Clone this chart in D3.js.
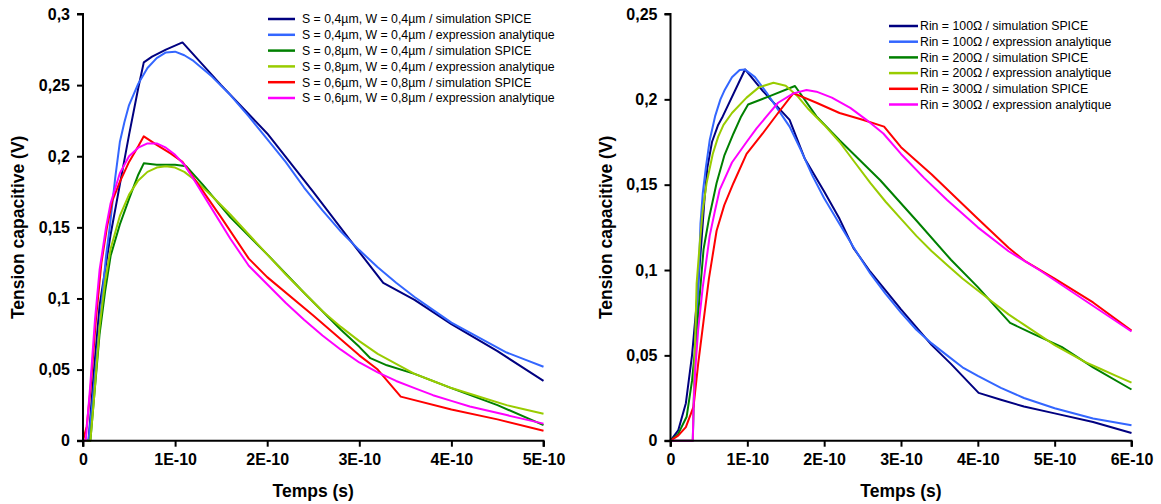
<!DOCTYPE html>
<html>
<head>
<meta charset="utf-8">
<script src="https://cdn.jsdelivr.net/npm/d3@7"></script>
<style>
  html, body { margin: 0; padding: 0; background: #fff; }
  svg { display: block; }
  .tick text { font-family: "Liberation Sans", Arial, sans-serif; font-weight: bold; font-size: 16px; fill: #000; }
  .axis-title { font-family: "Liberation Sans", Arial, sans-serif; font-weight: bold; font-size: 17.5px; fill: #000; }
  .legend text { font-family: "Liberation Sans", Arial, sans-serif; font-size: 12.3px; fill: #000; }
</style>
</head>
<body>
<svg id="chart" width="1161" height="504"></svg>
<script>
// ---------- DATA (time in ps, i.e. 1E-12 s ; voltage in V) ----------
// Left chart: geometry S / W
const leftLabels = [
  "S = 0,4µm, W = 0,4µm / simulation SPICE",
  "S = 0,4µm, W = 0,4µm / expression analytique",
  "S = 0,8µm, W = 0,4µm / simulation SPICE",
  "S = 0,8µm, W = 0,4µm / expression analytique",
  "S = 0,6µm, W = 0,8µm / simulation SPICE",
  "S = 0,6µm, W = 0,8µm / expression analytique"
];
const leftS04W04Spice = [[0,0],[6,0],[12,0.05],[18,0.095],[24,0.12],[30,0.145],[40,0.18],[50,0.215],[60,0.248],[66,0.266],[75,0.27],[90,0.275],[108,0.28],[150,0.25],[200,0.216],[250,0.175],[290,0.141],[326,0.111],[360,0.099],[400,0.082],[450,0.063],[500,0.042]];
const leftS04W04Anal = [[0,0],[6,0],[10,0.025],[15,0.06],[20,0.095],[25,0.13],[29,0.15],[35,0.185],[40,0.21],[45,0.224],[50,0.236],[60,0.251],[70,0.262],[80,0.269],[90,0.273],[100,0.2735],[110,0.271],[120,0.267],[140,0.256],[160,0.243],[180,0.228],[200,0.212],[220,0.196],[240,0.178],[260,0.162],[280,0.147],[300,0.134],[320,0.122],[340,0.111],[360,0.101],[380,0.092],[400,0.083],[420,0.076],[440,0.069],[460,0.062],[480,0.057],[500,0.052]];
const leftS08W04Spice = [[0,0],[8,0],[12,0.03],[18,0.075],[24,0.105],[30,0.13],[40,0.152],[50,0.17],[60,0.187],[66,0.195],[80,0.194],[100,0.194],[112,0.193],[130,0.18],[160,0.157],[200,0.131],[240,0.104],[280,0.078],[300,0.066],[312,0.058],[330,0.053],[360,0.047],[400,0.037],[450,0.025],[500,0.011]];
const leftS08W04Anal = [[0,0],[8,0],[12,0.03],[18,0.08],[24,0.112],[30,0.135],[40,0.158],[50,0.173],[60,0.183],[70,0.189],[80,0.192],[90,0.193],[100,0.192],[110,0.189],[120,0.184],[140,0.172],[160,0.159],[180,0.145],[200,0.131],[220,0.117],[240,0.104],[260,0.091],[280,0.08],[300,0.07],[320,0.061],[340,0.054],[360,0.047],[380,0.042],[400,0.037],[420,0.033],[440,0.029],[460,0.025],[480,0.022],[500,0.019]];
const leftS06W08Spice = [[0,0],[4,0.01],[8,0.035],[14,0.085],[20,0.125],[26,0.15],[32,0.169],[40,0.182],[50,0.196],[60,0.207],[66,0.214],[80,0.208],[95,0.202],[108,0.196],[120,0.185],[150,0.157],[180,0.128],[200,0.115],[250,0.088],[300,0.06],[320,0.05],[345,0.031],[400,0.022],[450,0.015],[500,0.007]];
const leftS06W08Anal = [[0,0],[3,0],[8,0.04],[13,0.085],[18,0.12],[25,0.15],[30,0.167],[40,0.188],[50,0.2],[60,0.206],[70,0.209],[80,0.209],[90,0.206],[100,0.201],[110,0.194],[120,0.184],[140,0.163],[160,0.142],[180,0.123],[200,0.11],[220,0.097],[240,0.085],[260,0.074],[280,0.064],[300,0.055],[320,0.048],[340,0.042],[360,0.037],[380,0.032],[400,0.028],[420,0.024],[440,0.021],[460,0.018],[480,0.015],[500,0.012]];

// Right chart: input resistance Rin
const rightLabels = [
  "Rin = 100Ω / simulation SPICE",
  "Rin = 100Ω / expression analytique",
  "Rin = 200Ω / simulation SPICE",
  "Rin = 200Ω / expression analytique",
  "Rin = 300Ω / simulation SPICE",
  "Rin = 300Ω / expression analytique"
];
const rightR100Spice = [[0,0],[10,0.006],[20,0.022],[28,0.05],[34,0.08],[40,0.115],[44,0.14],[48,0.16],[54,0.175],[62,0.185],[68,0.19],[97,0.2175],[120,0.205],[155,0.188],[175,0.165],[200,0.146],[220,0.13],[238,0.113],[260,0.099],[300,0.077],[340,0.056],[365,0.045],[401,0.028],[430,0.024],[460,0.02],[500,0.016],[550,0.011],[600,0.0045]];
const rightR100Anal = [[0,0],[29,0],[32,0.05],[37,0.1],[39,0.127],[42,0.145],[46,0.16],[51,0.176],[58,0.19],[65,0.2],[70,0.205],[80,0.213],[90,0.2172],[97,0.2175],[110,0.213],[125,0.204],[140,0.194],[155,0.184],[170,0.17],[185,0.155],[200,0.142],[220,0.127],[240,0.112],[260,0.098],[280,0.086],[300,0.075],[320,0.065],[340,0.057],[360,0.05],[380,0.043],[400,0.038],[430,0.031],[460,0.025],[500,0.019],[550,0.013],[600,0.009]];
const rightR200Spice = [[0,0],[10,0.004],[21,0.014],[28,0.035],[34,0.063],[38,0.085],[43,0.112],[50,0.13],[60,0.151],[70,0.167],[82,0.18],[92,0.19],[101,0.197],[130,0.202],[162,0.2078],[190,0.19],[220,0.176],[273,0.1526],[320,0.129],[365,0.106],[400,0.09],[442,0.069],[470,0.063],[509,0.055],[550,0.043],[600,0.03]];
const rightR200Anal = [[0,0],[29,0],[31,0.04],[34,0.092],[38,0.115],[42,0.135],[47,0.151],[55,0.168],[62,0.178],[69,0.185],[80,0.192],[99,0.201],[115,0.207],[134,0.2097],[150,0.208],[165,0.202],[180,0.194],[200,0.185],[220,0.175],[240,0.163],[260,0.151],[280,0.14],[300,0.13],[320,0.12],[340,0.111],[360,0.103],[380,0.095],[400,0.088],[420,0.081],[440,0.074],[460,0.068],[480,0.062],[500,0.056],[520,0.051],[540,0.046],[560,0.042],[580,0.038],[600,0.034]];
const rightR300Spice = [[0,0],[10,0.003],[20,0.008],[30,0.02],[36,0.045],[43,0.07],[50,0.095],[60,0.123],[70,0.138],[82,0.151],[99,0.168],[120,0.18],[140,0.192],[160,0.2036],[190,0.198],[220,0.192],[250,0.188],[278,0.184],[300,0.172],[340,0.156],[400,0.13],[440,0.113],[462,0.105],[500,0.095],[550,0.081],[600,0.0645]];
const rightR300Anal = [[0,0],[29,0],[30,0.02],[32,0.04],[36,0.065],[42,0.09],[51,0.12],[58,0.135],[64,0.147],[80,0.163],[99,0.175],[112,0.183],[125,0.19],[140,0.198],[160,0.2035],[177,0.2055],[190,0.2045],[210,0.201],[234,0.195],[255,0.188],[277,0.18],[300,0.168],[330,0.154],[360,0.141],[400,0.125],[440,0.111],[480,0.1],[520,0.088],[560,0.076],[600,0.064]];

const seriesColors = ["#000080", "#3366FF", "#008000", "#99CC00", "#FF0000", "#FF00FF"];

const leftXTicks = [0, 100, 200, 300, 400, 500];
const rightXTicks = [0, 100, 200, 300, 400, 500, 600];
const leftYTicks = [0, 0.05, 0.1, 0.15, 0.2, 0.25, 0.3];
const rightYTicks = [0, 0.05, 0.1, 0.15, 0.2, 0.25];

const xTickLabel = d => d === 0 ? "0" : (d / 100) + "E-10";
const yTickLabel = d => d === 0 ? "0" : String(+d.toFixed(2)).replace(".", ",");

// ---------- DRAW ----------
const svg = d3.select("#chart");

function drawPanel(cfg) {
  const x = d3.scaleLinear().domain([0, cfg.xMax]).range([cfg.x0, cfg.x1]);
  const y = d3.scaleLinear().domain([0, cfg.yMax]).range([cfg.y0, cfg.y1]);
  const g = svg.append("g");

  const line = d3.line().x(d => x(d[0])).y(d => y(d[1]));

  g.selectAll("path.series")
    .data(cfg.series)
    .join("path")
    .attr("class", "series")
    .attr("d", d => line(d))
    .attr("fill", "none")
    .attr("stroke", (d, i) => seriesColors[i])
    .attr("stroke-width", 2)
    .attr("stroke-linejoin", "round");

  const xAxis = d3.axisBottom(x).tickValues(cfg.xTicks).tickFormat(xTickLabel).tickSize(6).tickPadding(7);
  const yAxis = d3.axisLeft(y).tickValues(cfg.yTicks).tickFormat(yTickLabel).tickSize(6).tickPadding(7);

  const gx = g.append("g").attr("transform", `translate(0,${cfg.y0})`).call(xAxis);
  const gy = g.append("g").attr("transform", `translate(${cfg.x0},0)`).call(yAxis);
  [gx, gy].forEach(a => {
    a.select(".domain").attr("stroke", "#000").attr("stroke-width", 2);
    a.selectAll(".tick line").attr("stroke", "#000").attr("stroke-width", 2);
  });
  gx.select(".domain").attr("d", `M${cfg.x0},6V0H${cfg.x1}V6`);
  gy.select(".domain").attr("d", `M-6,${cfg.y1}H0V${cfg.y0}H-6`);

  g.append("text").attr("class", "axis-title")
    .attr("x", (cfg.x0 + cfg.x1) / 2).attr("y", 497)
    .attr("text-anchor", "middle").text("Temps (s)");
  g.append("text").attr("class", "axis-title")
    .attr("transform", `translate(${cfg.yTitleX},${(cfg.y0 + cfg.y1) / 2}) rotate(-90)`)
    .attr("text-anchor", "middle").attr("dy", "0.35em").text("Tension capacitive (V)");

  const lg = g.append("g").attr("class", "legend");
  const rows = lg.selectAll("g").data(cfg.labels).join("g")
    .attr("transform", (d, i) => `translate(0,${cfg.legY + i * cfg.legStep})`);
  rows.append("line")
    .attr("x1", cfg.legX0).attr("x2", cfg.legX1)
    .attr("stroke", (d, i) => seriesColors[i]).attr("stroke-width", 2.5);
  rows.append("text")
    .attr("x", cfg.legTextX).attr("dy", "0.35em").text(d => d);
}

drawPanel({
  x0: 83, x1: 543.5, y0: 440.7, y1: 14, xMax: 500, yMax: 0.3,
  xTicks: leftXTicks, yTicks: leftYTicks, yTitleX: 18,
  series: [leftS04W04Spice, leftS04W04Anal, leftS08W04Spice, leftS08W04Anal, leftS06W08Spice, leftS06W08Anal],
  labels: leftLabels, legX0: 268, legX1: 295, legTextX: 302, legY: 19, legStep: 15.8
});

drawPanel({
  x0: 670.5, x1: 1131.5, y0: 440.7, y1: 14, xMax: 600, yMax: 0.25,
  xTicks: rightXTicks, yTicks: rightYTicks, yTitleX: 606,
  series: [rightR100Spice, rightR100Anal, rightR200Spice, rightR200Anal, rightR300Spice, rightR300Anal],
  labels: rightLabels, legX0: 889, legX1: 918, legTextX: 920, legY: 26, legStep: 15.7
});
</script>
</body>
</html>
